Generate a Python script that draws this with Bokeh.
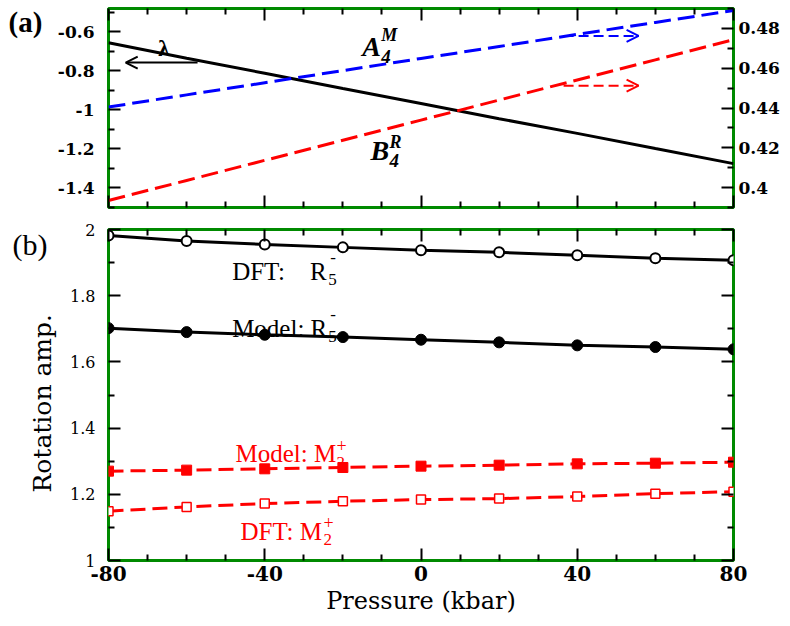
from bokeh.plotting import figure
from bokeh.models import (Range1d, LinearAxis, FixedTicker, Label, Arrow, OpenHead,
                          Title, CustomJSTickFormatter)
from bokeh.layouts import column
from bokeh.embed import file_html
from bokeh.resources import INLINE

# ---------------- data ----------------
pressure = [-80, -60, -40, -20, 0, 20, 40, 60, 80]

# panel (a)
lam = [-0.656, -0.735, -0.812, -0.890, -0.967, -1.045, -1.120, -1.198, -1.275]
a4m = [0.4405, 0.4466, 0.4527, 0.4588, 0.4649, 0.4709, 0.4770, 0.4830, 0.4890]
b4r = [0.3935, 0.4036, 0.4137, 0.4238, 0.4339, 0.4440, 0.4541, 0.4642, 0.4743]

# panel (b)
dft_r5 = [1.982, 1.965, 1.955, 1.946, 1.937, 1.931, 1.922, 1.913, 1.907]
model_r5 = [1.702, 1.690, 1.682, 1.675, 1.667, 1.659, 1.650, 1.645, 1.638]
model_m2 = [1.270, 1.273, 1.277, 1.281, 1.285, 1.288, 1.292, 1.294, 1.297]
dft_m2 = [1.149, 1.162, 1.172, 1.179, 1.184, 1.187, 1.193, 1.202, 1.208]

# ticks
x_ticks = [-80, -40, 0, 40, 80]
x_tick_labels = ["-80", "-40", "0", "40", "80"]
x_minor = [-70, -60, -50, -30, -20, -10, 10, 20, 30, 50, 60, 70]
a_left_ticks = [-1.4, -1.2, -1.0, -0.8, -0.6]
a_left_labels = ["-1.4", "-1.2", "-1", "-0.8", "-0.6"]
a_left_minor = [-1.5, -1.3, -1.1, -0.9, -0.7, -0.5]
a_right_ticks = [0.40, 0.42, 0.44, 0.46, 0.48]
a_right_labels = ["0.4", "0.42", "0.44", "0.46", "0.48"]
a_right_minor = [0.39, 0.41, 0.43, 0.45, 0.47, 0.49]
b_ticks = [1.0, 1.2, 1.4, 1.6, 1.8, 2.0]
b_labels = ["1", "1.2", "1.4", "1.6", "1.8", "2"]
b_minor = [1.1, 1.3, 1.5, 1.7, 1.9]

FONT = "Liberation Serif"
QFONT = '"Liberation Serif"'
AXFONT = "DejaVu Serif"
GREEN = "#008a00"

LOOKUP = """
for (let i = 0; i < t.length; i++) {
  if (Math.abs(t[i] - tick) < 1e-9) return l[i];
}
return "";
"""


def fmt(ticks, labels):
    return CustomJSTickFormatter(args=dict(t=ticks, l=labels), code=LOOKUP)


def style(ax, size="16px", bold=False, labels=True, standoff=12):
    ax.axis_line_color = None
    ax.major_tick_in = 12
    ax.major_tick_out = 0
    ax.minor_tick_in = 6
    ax.minor_tick_out = 0
    ax.major_tick_line_width = 2
    ax.minor_tick_line_width = 2
    ax.major_tick_line_color = "black"
    ax.minor_tick_line_color = "black"
    ax.major_label_text_font = AXFONT
    ax.major_label_text_font_style = "bold" if bold else "normal"
    if labels:
        ax.major_label_text_color = "black"
        ax.major_label_text_font_size = size
        ax.major_label_standoff = standoff
    else:
        ax.major_label_text_color = None
        ax.major_label_text_font_size = "0px"
        ax.major_label_standoff = 0


def lbl(p, x, y, text, size, color="black", style_="normal", xo=0, yo=0, align="left"):
    p.add_layout(Label(x=x, y=y, text=text, x_offset=xo, y_offset=yo,
                       text_font=FONT, text_font_size=size, text_font_style=style_,
                       text_color=color, text_align=align, text_baseline="alphabetic"))


def panel_tag(p, text, size, style_, offset, standoff):
    t = p.title
    t.text = "\n" + text
    t.align = "left"
    t.vertical_align = "bottom"
    t.offset = offset
    t.standoff = standoff
    t.text_font = QFONT
    t.text_font_size = size
    t.text_font_style = style_
    t.text_color = "black"


# ---------------- panel (a) ----------------
p1 = figure(frame_width=625, frame_height=199,
            x_range=Range1d(-80, 80), y_range=Range1d(-1.5, -0.48),
            output_backend="svg", toolbar_location=None,
            x_axis_location=None, y_axis_location=None,
            min_border_left=108, min_border_right=50,
            min_border_top=8, min_border_bottom=2)
p1.extra_y_ranges = {"right": Range1d(0.39, 0.49)}
p1.grid.visible = False
p1.outline_line_color = GREEN
p1.outline_line_width = 3

for side in ("below", "above"):
    ax = LinearAxis(ticker=FixedTicker(ticks=x_ticks, minor_ticks=x_minor))
    style(ax, labels=False)
    p1.add_layout(ax, side)

ay = LinearAxis(ticker=FixedTicker(ticks=a_left_ticks, minor_ticks=a_left_minor),
                formatter=fmt(a_left_ticks, a_left_labels))
style(ay, size="17px", bold=True, standoff=14)
p1.add_layout(ay, "left")

ayr = LinearAxis(y_range_name="right",
                 ticker=FixedTicker(ticks=a_right_ticks, minor_ticks=a_right_minor),
                 formatter=fmt(a_right_ticks, a_right_labels))
style(ayr, size="17px", bold=True, standoff=5)
p1.add_layout(ayr, "right")

panel_tag(p1, "(a)", "29px", "bold", -100, -58)

p1.line(pressure, lam, line_color="black", line_width=3)
p1.line(pressure, a4m, y_range_name="right", line_color="#0000ff", line_width=3, line_dash="17 7")
p1.line(pressure, b4r, y_range_name="right", line_color="#ff0000", line_width=3, line_dash="17 7")

p1.add_layout(Arrow(end=OpenHead(size=12, line_width=2, line_color="black"),
                    x_start=-57.2, y_start=-0.757, x_end=-75.6, y_end=-0.757,
                    line_width=2, line_color="black"))
p1.add_layout(Arrow(end=OpenHead(size=12, line_width=2, line_color="#0000ff"),
                    x_start=36.5, y_start=0.4762, x_end=55.7, y_end=0.4762,
                    y_range_name="right", line_width=2, line_color="#0000ff", line_dash="10 5"))
p1.add_layout(Arrow(end=OpenHead(size=12, line_width=2, line_color="#ff0000"),
                    x_start=36.5, y_start=0.4512, x_end=55.7, y_end=0.4512,
                    y_range_name="right", line_width=2, line_color="#ff0000", line_dash="10 5"))

lbl(p1, -65.8, -0.684, "λ", "23px", style_="bold", align="center")
lbl(p1, -15.05, -0.677, "A", "28px", style_="bold italic")
lbl(p1, -15.05, -0.677, "M", "18px", style_="bold italic", xo=19, yo=12)
lbl(p1, -15.05, -0.677, "4", "19px", style_="bold italic", xo=19, yo=-10)
lbl(p1, -12.9, -1.210, "B", "28px", style_="bold italic")
lbl(p1, -12.9, -1.210, "R", "18px", style_="bold italic", xo=19, yo=9)
lbl(p1, -12.9, -1.210, "4", "19px", style_="bold italic", xo=19, yo=-10)

# ---------------- panel (b) ----------------
p2 = figure(frame_width=625, frame_height=331,
            x_range=Range1d(-80, 80), y_range=Range1d(1, 2),
            output_backend="svg", toolbar_location=None,
            x_axis_location=None, y_axis_location=None,
            min_border_left=108, min_border_right=50,
            min_border_top=20, min_border_bottom=8)
p2.grid.visible = False
p2.outline_line_color = GREEN
p2.outline_line_width = 3

bx = LinearAxis(ticker=FixedTicker(ticks=x_ticks, minor_ticks=x_minor),
                formatter=fmt(x_ticks, x_tick_labels))
style(bx, size="20px", bold=True, standoff=5)
p2.add_layout(bx, "below")
p2.add_layout(Title(text="Pressure (kbar)", align="center", vertical_align="top",
                    standoff=7, text_font=AXFONT, text_font_size="24px",
                    text_font_style="normal", text_color="black"), "below")

tx = LinearAxis(ticker=FixedTicker(ticks=x_ticks, minor_ticks=x_minor))
style(tx, labels=False)
p2.add_layout(tx, "above")

by = LinearAxis(ticker=FixedTicker(ticks=b_ticks, minor_ticks=b_minor),
                formatter=fmt(b_ticks, b_labels))
style(by, size="16px", bold=False, standoff=13)
p2.add_layout(by, "left")
p2.add_layout(Title(text="Rotation amp.", align="left", vertical_align="bottom",
                    offset=68, standoff=21, text_font=AXFONT, text_font_size="25px",
                    text_font_style="normal", text_color="black"), "left")

ry = LinearAxis(ticker=FixedTicker(ticks=b_ticks, minor_ticks=b_minor))
style(ry, labels=False)
p2.add_layout(ry, "right")

panel_tag(p2, "(b)", "30px", "normal", -96, -62)

p2.line(pressure, dft_r5, line_color="black", line_width=3)
p2.scatter(pressure, dft_r5, marker="circle", size=10, fill_color="white",
           line_color="black", line_width=2)
p2.line(pressure, model_r5, line_color="black", line_width=3)
p2.scatter(pressure, model_r5, marker="circle", size=11, fill_color="black",
           line_color="black")
p2.line(pressure, model_m2, line_color="#ff0000", line_width=3, line_dash="15 7")
p2.scatter(pressure, model_m2, marker="square", size=10, fill_color="#ff0000",
           line_color="#ff0000")
p2.line(pressure, dft_m2, line_color="#ff0000", line_width=3, line_dash="15 7")
p2.scatter(pressure, dft_m2, marker="square", size=9, fill_color="white",
           line_color="#ff0000", line_width=1.5)

# DFT: R5-
lbl(p2, -48.35, 1.874, "DFT:\u00a0\u00a0\u00a0\u00a0R", "25px")
lbl(p2, -48.35, 1.874, "5", "17px", xo=96, yo=-8)
lbl(p2, -48.35, 1.874, "-", "17px", xo=98, yo=14)
# Model: R5-
lbl(p2, -48.35, 1.702, "Model: R", "25px")
lbl(p2, -48.35, 1.702, "5", "17px", xo=96, yo=-8)
lbl(p2, -48.35, 1.702, "-", "17px", xo=98, yo=14)
# Model: M2+
lbl(p2, -47.5, 1.323, "Model: M", "25px", color="#ff0000")
lbl(p2, -47.5, 1.323, "2", "17px", color="#ff0000", xo=101, yo=-9)
lbl(p2, -47.5, 1.323, "+", "18px", color="#ff0000", xo=101, yo=8)
# DFT: M2+
lbl(p2, -46.2, 1.088, "DFT: M", "25px", color="#ff0000")
lbl(p2, -46.2, 1.088, "2", "17px", color="#ff0000", xo=83, yo=-8)
lbl(p2, -46.2, 1.088, "+", "18px", color="#ff0000", xo=83, yo=9)

layout = column(p1, p2)
open("out.html", "w").write(file_html(layout, INLINE))
